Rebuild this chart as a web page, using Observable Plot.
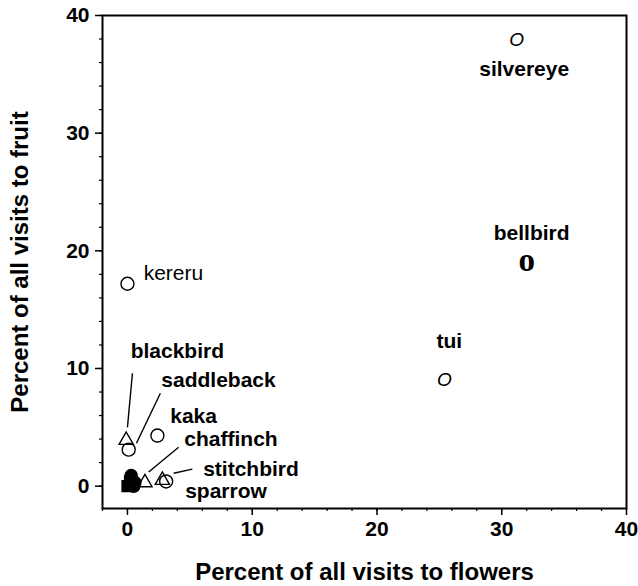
<!DOCTYPE html>
<html><head><meta charset="utf-8">
<script src="https://cdn.jsdelivr.net/npm/d3@7"></script>
<script src="https://cdn.jsdelivr.net/npm/@observablehq/plot@0.6"></script>
<style>body{margin:0;background:#fff}</style>
</head><body><div id="chart"></div>
<script>
// Labelled species
const species    = ["silvereye","bellbird","tui","kereru","blackbird","saddleback","kaka","chaffinch","stitchbird","sparrow"];
const flowerPct  = [31.2, 32.0, 25.4, 0.0, -0.1, 0.1, 2.4, 1.4, 3.1, 2.8];
const fruitPct   = [37.9, 19.2, 9.0, 17.2, 3.9, 3.1, 4.3, 0.3, 0.4, 0.5];
const markerKind = ["italicO","boldO","italicO","circle","triangle","circle","circle","triangle","circle","triangle"];
// label anchors (data units)
const labelX = [31.8, 32.4, 25.8, 1.3, 4.0, 7.3, 5.3, 8.3, 9.9, 7.9];
const labelY = [35.4, 21.5, 12.3, 18.1, 11.5, 9.0, 5.9, 4.0, 1.45, -0.45];
// unlabelled species clustered near zero (filled)
const otherFlower = [0.0, 0.3, 0.6, 0.5, 0.2];
const otherFruit  = [0.0, 0.9, 0.3, 0.0, 0.4];
const otherKind   = ["square","circle","circle","circle","square"];
// leader lines
const leadX1 = [0.4, 2.64, 4.1, 5.2];
const leadY1 = [9.6, 7.9, 3.3, 1.45];
const leadX2 = [0.0, 0.72, 1.7, 3.7];
const leadY2 = [5.0, 3.65, 1.2, 1.1];
const xTicks = [0, 10, 20, 30, 40];
const yTicks = [0, 10, 20, 30, 40];

const birds = species.map((s, i) => ({species: s, flowers: flowerPct[i], fruit: fruitPct[i], kind: markerKind[i], lx: labelX[i], ly: labelY[i]}));
const others = otherFlower.map((f, i) => ({flowers: f, fruit: otherFruit[i], kind: otherKind[i]}));
const leaders = leadX1.map((v, i) => ({x1: v, y1: leadY1[i], x2: leadX2[i], y2: leadY2[i]}));

const font = "'Liberation Sans', Arial, Helvetica, sans-serif";
const chart = Plot.plot({
  width: 638, height: 586,
  marginLeft: 102, marginRight: 12, marginTop: 15, marginBottom: 78,
  style: {fontFamily: font, background: "#fff", color: "#000"},
  x: {domain: [-2, 40]},
  y: {domain: [-1.9, 40]},
  marks: [
    Plot.axisX({ticks: d3.range(-2, 41, 2), tickSize: 3, tickFormat: () => "", label: null, strokeWidth: 1.2}),
    Plot.axisY({ticks: d3.range(0, 41, 2), tickSize: 3, tickFormat: () => "", label: null, strokeWidth: 1.2}),
    Plot.axisX({ticks: xTicks, tickSize: 7, tickPadding: 6, fontSize: 21, fontWeight: "bold", label: null, tickFormat: d => String(d), strokeWidth: 1.5}),
    Plot.axisY({ticks: yTicks, tickSize: 7, tickPadding: 6, fontSize: 21, fontWeight: "bold", label: null, tickFormat: d => String(d), strokeWidth: 1.5}),
    Plot.frame({strokeWidth: 2}),
    Plot.link(leaders, {x1: "x1", y1: "y1", x2: "x2", y2: "y2", stroke: "black", strokeWidth: 1.4}),
    Plot.dot(birds.filter(d => d.kind === "circle"), {x: "flowers", y: "fruit", r: 6.5, stroke: "black", strokeWidth: 1.4, fill: "none"}),
    Plot.dot(birds.filter(d => d.kind === "triangle"), {x: "flowers", y: "fruit", symbol: "triangle", r: 5.3, stroke: "black", strokeWidth: 1.4, fill: "none"}),
    Plot.dot(others, {x: "flowers", y: "fruit", symbol: "kind", r: 6, fill: "black", stroke: "black"}),
    Plot.text(birds.filter(d => d.kind === "italicO"), {x: "flowers", y: "fruit", text: () => "O", fontStyle: "italic", fontSize: 19, fontFamily: font}),
    Plot.text(birds.filter(d => d.kind === "boldO"), {x: "flowers", y: "fruit", text: () => "o", fontWeight: "bold", fontSize: 33, fontFamily: "'Liberation Serif', 'Times New Roman', serif"}),
    Plot.text(birds.filter(d => d.species !== "kereru"), {x: "lx", y: "ly", text: "species", fontSize: 21, fontWeight: "bold"}),
    Plot.text(birds.filter(d => d.species === "kereru"), {x: "lx", y: "ly", text: "species", fontSize: 21, textAnchor: "start"}),
    Plot.text(["Percent of all visits to flowers"], {text: d => d, frameAnchor: "bottom", textAnchor: "middle", dy: 71, fontSize: 24, fontWeight: "bold"}),
    Plot.text(["Percent of all visits to fruit"], {text: d => d, frameAnchor: "left", textAnchor: "middle", rotate: -90, dx: -82, fontSize: 24, fontWeight: "bold"})
  ]
});
document.getElementById("chart").append(chart);
</script>
</body></html>
